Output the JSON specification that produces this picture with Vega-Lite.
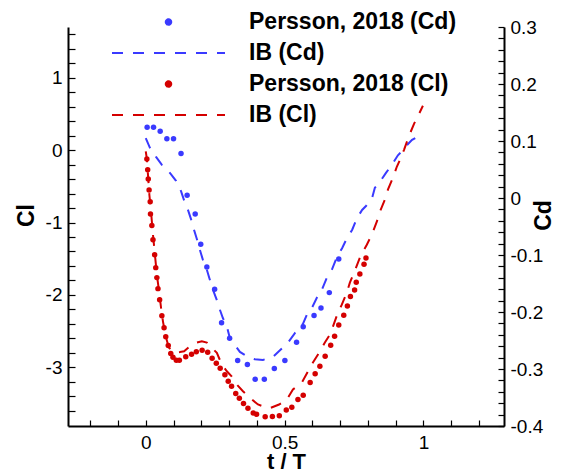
{
"$schema": "https://vega.github.io/schema/vega-lite/v6.json",
"width": 436, "height": 399,
"autosize": {"type": "none"},
"padding": {"left": 68, "top": 27, "right": 62, "bottom": 45},
"config": {
  "view": {"stroke": null},
  "axis": {"grid": false, "domainColor": "black", "domainWidth": 2, "tickColor": "black", "tickWidth": 1.2,
    "labelFont": "Liberation Sans", "labelFontSize": 19, "labelColor": "black",
    "titleFont": "Liberation Sans", "titleFontWeight": "bold", "titleColor": "black",
    "labelOverlap": false, "labelFlush": false}
},
"data": {"values": [
{"s":"IB (Cd)","t":0,"v":0.105},{"s":"IB (Cd)","t":0.015,"v":0.088},{"s":"IB (Cd)","t":0.037,"v":0.072},{"s":"IB (Cd)","t":0.058,"v":0.058},{"s":"IB (Cd)","t":0.087,"v":0.044},{"s":"IB (Cd)","t":0.109,"v":0.030},{"s":"IB (Cd)","t":0.127,"v":0.012},{"s":"IB (Cd)","t":0.138,"v":-0.004},{"s":"IB (Cd)","t":0.152,"v":-0.021},{"s":"IB (Cd)","t":0.163,"v":-0.037},{"s":"IB (Cd)","t":0.174,"v":-0.056},{"s":"IB (Cd)","t":0.184,"v":-0.072},{"s":"IB (Cd)","t":0.195,"v":-0.091},{"s":"IB (Cd)","t":0.206,"v":-0.109},{"s":"IB (Cd)","t":0.220,"v":-0.126},{"s":"IB (Cd)","t":0.228,"v":-0.139},{"s":"IB (Cd)","t":0.242,"v":-0.161},{"s":"IB (Cd)","t":0.256,"v":-0.179},{"s":"IB (Cd)","t":0.267,"v":-0.196},{"s":"IB (Cd)","t":0.278,"v":-0.211},{"s":"IB (Cd)","t":0.292,"v":-0.225},{"s":"IB (Cd)","t":0.303,"v":-0.246},{"s":"IB (Cd)","t":0.321,"v":-0.258},{"s":"IB (Cd)","t":0.339,"v":-0.270},{"s":"IB (Cd)","t":0.368,"v":-0.279},{"s":"IB (Cd)","t":0.393,"v":-0.283},{"s":"IB (Cd)","t":0.422,"v":-0.284},{"s":"IB (Cd)","t":0.458,"v":-0.279},{"s":"IB (Cd)","t":0.490,"v":-0.264},{"s":"IB (Cd)","t":0.512,"v":-0.254},{"s":"IB (Cd)","t":0.537,"v":-0.237},{"s":"IB (Cd)","t":0.566,"v":-0.221},{"s":"IB (Cd)","t":0.580,"v":-0.205},{"s":"IB (Cd)","t":0.598,"v":-0.193},{"s":"IB (Cd)","t":0.616,"v":-0.175},{"s":"IB (Cd)","t":0.634,"v":-0.161},{"s":"IB (Cd)","t":0.652,"v":-0.140},{"s":"IB (Cd)","t":0.670,"v":-0.126},{"s":"IB (Cd)","t":0.688,"v":-0.104},{"s":"IB (Cd)","t":0.707,"v":-0.088},{"s":"IB (Cd)","t":0.725,"v":-0.070},{"s":"IB (Cd)","t":0.743,"v":-0.056},{"s":"IB (Cd)","t":0.761,"v":-0.035},{"s":"IB (Cd)","t":0.779,"v":-0.021},{"s":"IB (Cd)","t":0.793,"v":-0.014},{"s":"IB (Cd)","t":0.815,"v":0.000},{"s":"IB (Cd)","t":0.825,"v":0.018},{"s":"IB (Cd)","t":0.840,"v":0.026},{"s":"IB (Cd)","t":0.865,"v":0.044},{"s":"IB (Cd)","t":0.890,"v":0.061},{"s":"IB (Cd)","t":0.908,"v":0.075},{"s":"IB (Cd)","t":0.926,"v":0.084},{"s":"IB (Cd)","t":0.941,"v":0.093},{"s":"IB (Cd)","t":0.959,"v":0.102},{"s":"IB (Cd)","t":0.977,"v":0.107},
{"s":"Persson, 2018 (Cd)","t":0.005,"v":0.124},{"s":"Persson, 2018 (Cd)","t":0.028,"v":0.124},{"s":"Persson, 2018 (Cd)","t":0.052,"v":0.117},{"s":"Persson, 2018 (Cd)","t":0.076,"v":0.104},{"s":"Persson, 2018 (Cd)","t":0.100,"v":0.104},{"s":"Persson, 2018 (Cd)","t":0.127,"v":0.078},{"s":"Persson, 2018 (Cd)","t":0.149,"v":0.005},{"s":"Persson, 2018 (Cd)","t":0.178,"v":-0.028},{"s":"Persson, 2018 (Cd)","t":0.198,"v":-0.081},{"s":"Persson, 2018 (Cd)","t":0.220,"v":-0.121},{"s":"Persson, 2018 (Cd)","t":0.248,"v":-0.160},{"s":"Persson, 2018 (Cd)","t":0.273,"v":-0.219},{"s":"Persson, 2018 (Cd)","t":0.302,"v":-0.246},{"s":"Persson, 2018 (Cd)","t":0.331,"v":-0.285},{"s":"Persson, 2018 (Cd)","t":0.366,"v":-0.292},{"s":"Persson, 2018 (Cd)","t":0.394,"v":-0.318},{"s":"Persson, 2018 (Cd)","t":0.427,"v":-0.318},{"s":"Persson, 2018 (Cd)","t":0.463,"v":-0.299},{"s":"Persson, 2018 (Cd)","t":0.501,"v":-0.285},{"s":"Persson, 2018 (Cd)","t":0.543,"v":-0.253},{"s":"Persson, 2018 (Cd)","t":0.567,"v":-0.226},{"s":"Persson, 2018 (Cd)","t":0.606,"v":-0.206},{"s":"Persson, 2018 (Cd)","t":0.631,"v":-0.193},{"s":"Persson, 2018 (Cd)","t":0.661,"v":-0.166},{"s":"Persson, 2018 (Cd)","t":0.695,"v":-0.107},
{"s":"IB (Cl)","t":0,"v":-0.017},{"s":"IB (Cl)","t":0.004,"v":-0.12},{"s":"IB (Cl)","t":0.008,"v":-0.34},{"s":"IB (Cl)","t":0.013,"v":-0.617},{"s":"IB (Cl)","t":0.019,"v":-0.851},{"s":"IB (Cl)","t":0.026,"v":-1.168},{"s":"IB (Cl)","t":0.033,"v":-1.444},{"s":"IB (Cl)","t":0.040,"v":-1.720},{"s":"IB (Cl)","t":0.048,"v":-1.954},{"s":"IB (Cl)","t":0.055,"v":-2.175},{"s":"IB (Cl)","t":0.062,"v":-2.368},{"s":"IB (Cl)","t":0.073,"v":-2.589},{"s":"IB (Cl)","t":0.083,"v":-2.727},{"s":"IB (Cl)","t":0.102,"v":-2.796},{"s":"IB (Cl)","t":0.123,"v":-2.789},{"s":"IB (Cl)","t":0.138,"v":-2.778},{"s":"IB (Cl)","t":0.166,"v":-2.685},{"s":"IB (Cl)","t":0.184,"v":-2.658},{"s":"IB (Cl)","t":0.202,"v":-2.640},{"s":"IB (Cl)","t":0.220,"v":-2.658},{"s":"IB (Cl)","t":0.235,"v":-2.717},{"s":"IB (Cl)","t":0.256,"v":-2.800},{"s":"IB (Cl)","t":0.274,"v":-2.961},{"s":"IB (Cl)","t":0.292,"v":-3.054},{"s":"IB (Cl)","t":0.310,"v":-3.127},{"s":"IB (Cl)","t":0.328,"v":-3.237},{"s":"IB (Cl)","t":0.350,"v":-3.330},{"s":"IB (Cl)","t":0.375,"v":-3.421},{"s":"IB (Cl)","t":0.404,"v":-3.513},{"s":"IB (Cl)","t":0.429,"v":-3.548},{"s":"IB (Cl)","t":0.447,"v":-3.564},{"s":"IB (Cl)","t":0.480,"v":-3.513},{"s":"IB (Cl)","t":0.508,"v":-3.444},{"s":"IB (Cl)","t":0.530,"v":-3.306},{"s":"IB (Cl)","t":0.562,"v":-3.210},{"s":"IB (Cl)","t":0.584,"v":-3.058},{"s":"IB (Cl)","t":0.602,"v":-2.934},{"s":"IB (Cl)","t":0.627,"v":-2.782},{"s":"IB (Cl)","t":0.645,"v":-2.658},{"s":"IB (Cl)","t":0.663,"v":-2.547},{"s":"IB (Cl)","t":0.674,"v":-2.437},{"s":"IB (Cl)","t":0.692,"v":-2.244},{"s":"IB (Cl)","t":0.706,"v":-2.134},{"s":"IB (Cl)","t":0.724,"v":-1.968},{"s":"IB (Cl)","t":0.735,"v":-1.830},{"s":"IB (Cl)","t":0.753,"v":-1.665},{"s":"IB (Cl)","t":0.771,"v":-1.486},{"s":"IB (Cl)","t":0.796,"v":-1.306},{"s":"IB (Cl)","t":0.814,"v":-1.168},{"s":"IB (Cl)","t":0.832,"v":-0.989},{"s":"IB (Cl)","t":0.843,"v":-0.851},{"s":"IB (Cl)","t":0.861,"v":-0.685},{"s":"IB (Cl)","t":0.872,"v":-0.547},{"s":"IB (Cl)","t":0.890,"v":-0.382},{"s":"IB (Cl)","t":0.904,"v":-0.230},{"s":"IB (Cl)","t":0.919,"v":-0.106},{"s":"IB (Cl)","t":0.930,"v":0.004},{"s":"IB (Cl)","t":0.948,"v":0.197},{"s":"IB (Cl)","t":0.966,"v":0.363},{"s":"IB (Cl)","t":0.984,"v":0.501},{"s":"IB (Cl)","t":0.998,"v":0.612},
{"s":"Persson, 2018 (Cl)","t":0.004,"v":-0.124},{"s":"Persson, 2018 (Cl)","t":0.007,"v":-0.272},{"s":"Persson, 2018 (Cl)","t":0.009,"v":-0.400},{"s":"Persson, 2018 (Cl)","t":0.012,"v":-0.552},{"s":"Persson, 2018 (Cl)","t":0.016,"v":-0.713},{"s":"Persson, 2018 (Cl)","t":0.017,"v":-0.883},{"s":"Persson, 2018 (Cl)","t":0.022,"v":-1.040},{"s":"Persson, 2018 (Cl)","t":0.026,"v":-1.237},{"s":"Persson, 2018 (Cl)","t":0.032,"v":-1.444},{"s":"Persson, 2018 (Cl)","t":0.036,"v":-1.623},{"s":"Persson, 2018 (Cl)","t":0.040,"v":-1.761},{"s":"Persson, 2018 (Cl)","t":0.044,"v":-1.913},{"s":"Persson, 2018 (Cl)","t":0.050,"v":-2.065},{"s":"Persson, 2018 (Cl)","t":0.058,"v":-2.286},{"s":"Persson, 2018 (Cl)","t":0.066,"v":-2.452},{"s":"Persson, 2018 (Cl)","t":0.072,"v":-2.579},{"s":"Persson, 2018 (Cl)","t":0.081,"v":-2.699},{"s":"Persson, 2018 (Cl)","t":0.090,"v":-2.810},{"s":"Persson, 2018 (Cl)","t":0.098,"v":-2.861},{"s":"Persson, 2018 (Cl)","t":0.110,"v":-2.902},{"s":"Persson, 2018 (Cl)","t":0.121,"v":-2.902},{"s":"Persson, 2018 (Cl)","t":0.144,"v":-2.855},{"s":"Persson, 2018 (Cl)","t":0.165,"v":-2.819},{"s":"Persson, 2018 (Cl)","t":0.182,"v":-2.786},{"s":"Persson, 2018 (Cl)","t":0.203,"v":-2.764},{"s":"Persson, 2018 (Cl)","t":0.223,"v":-2.792},{"s":"Persson, 2018 (Cl)","t":0.239,"v":-2.874},{"s":"Persson, 2018 (Cl)","t":0.254,"v":-2.943},{"s":"Persson, 2018 (Cl)","t":0.268,"v":-3.012},{"s":"Persson, 2018 (Cl)","t":0.285,"v":-3.103},{"s":"Persson, 2018 (Cl)","t":0.297,"v":-3.192},{"s":"Persson, 2018 (Cl)","t":0.309,"v":-3.261},{"s":"Persson, 2018 (Cl)","t":0.324,"v":-3.361},{"s":"Persson, 2018 (Cl)","t":0.337,"v":-3.426},{"s":"Persson, 2018 (Cl)","t":0.352,"v":-3.499},{"s":"Persson, 2018 (Cl)","t":0.368,"v":-3.564},{"s":"Persson, 2018 (Cl)","t":0.387,"v":-3.630},{"s":"Persson, 2018 (Cl)","t":0.399,"v":-3.647},{"s":"Persson, 2018 (Cl)","t":0.430,"v":-3.683},{"s":"Persson, 2018 (Cl)","t":0.456,"v":-3.679},{"s":"Persson, 2018 (Cl)","t":0.481,"v":-3.669},{"s":"Persson, 2018 (Cl)","t":0.506,"v":-3.589},{"s":"Persson, 2018 (Cl)","t":0.526,"v":-3.550},{"s":"Persson, 2018 (Cl)","t":0.548,"v":-3.444},{"s":"Persson, 2018 (Cl)","t":0.567,"v":-3.385},{"s":"Persson, 2018 (Cl)","t":0.592,"v":-3.210},{"s":"Persson, 2018 (Cl)","t":0.610,"v":-3.088},{"s":"Persson, 2018 (Cl)","t":0.627,"v":-2.985},{"s":"Persson, 2018 (Cl)","t":0.646,"v":-2.847},{"s":"Persson, 2018 (Cl)","t":0.666,"v":-2.695},{"s":"Persson, 2018 (Cl)","t":0.680,"v":-2.571},{"s":"Persson, 2018 (Cl)","t":0.695,"v":-2.415},{"s":"Persson, 2018 (Cl)","t":0.713,"v":-2.280},{"s":"Persson, 2018 (Cl)","t":0.726,"v":-2.152},{"s":"Persson, 2018 (Cl)","t":0.737,"v":-2.021},{"s":"Persson, 2018 (Cl)","t":0.752,"v":-1.931},{"s":"Persson, 2018 (Cl)","t":0.758,"v":-1.826},{"s":"Persson, 2018 (Cl)","t":0.771,"v":-1.712},{"s":"Persson, 2018 (Cl)","t":0.786,"v":-1.575},{"s":"Persson, 2018 (Cl)","t":0.793,"v":-1.490}
]},
"encoding": {
  "x": {"field": "t", "type": "quantitative", "scale": {"domain": [-0.28, 1.29], "nice": false, "zero": false},
    "axis": {"orient": "bottom", "title": "t / T", "titleFontSize": 22, "titleY": 42, "titleBaseline": "alphabetic",
      "values": [-0.2,-0.1,0,0.1,0.2,0.3,0.4,0.5,0.6,0.7,0.8,0.9,1,1.1,1.2],
      "labelExpr": "indexof([0,0.5,1], datum.value) >= 0 ? format(datum.value, '~g') : ''",
      "tickSize": -6,
      "labelPadding": 13}},
  "color": {"field": "s", "type": "nominal",
    "scale": {"domain": ["Persson, 2018 (Cd)", "IB (Cd)", "Persson, 2018 (Cl)", "IB (Cl)"], "range": ["#3a3aff", "#3a3aff", "#d40000", "#d40000"]},
    "legend": {"orient": "none", "legendX": 43, "legendY": -16, "title": null, "padding": 0,
      "symbolStrokeWidth": 2, "clipHeight": 22,
      "labelFont": "Liberation Sans", "labelFontWeight": "bold", "labelFontSize": 23, "labelColor": "black",
      "labelOffset": 23, "labelLimit": 0, "rowPadding": 8}}
},
"layer": [
  {"transform": [{"filter": "indexof(datum.s, 'Cd') >= 0"}],
   "encoding": {"y": {"field": "v", "type": "quantitative", "scale": {"domain": [-0.4, 0.3], "nice": false, "zero": false},
     "axis": {"orient": "right", "title": "Cd", "titleFontSize": 23, "titleAngle": -90, "titleX": 46, "titleY": 188,
       "titleBaseline": "alphabetic", "titleAlign": "center",
       "values": [-0.4,-0.38,-0.36,-0.34,-0.32,-0.3,-0.28,-0.26,-0.24,-0.22,-0.2,-0.18,-0.16,-0.14,-0.12,-0.1,-0.08,-0.06,-0.04,-0.02,0,0.02,0.04,0.06,0.08,0.1,0.12,0.14,0.16,0.18,0.2,0.22,0.24,0.26,0.28,0.3],
       "labelExpr": "indexof([-0.4,-0.3,-0.2,-0.1,0,0.1,0.2,0.3], datum.value) >= 0 ? (datum.value < 0 ? '-' + format(-datum.value, '~g') : format(datum.value, '~g')) : ''",
       "tickSize": -6,
       "labelPadding": 12}}},
   "layer": [
     {"transform": [{"filter": "indexof(datum.s, 'IB') == 0"}], "mark": {"type": "line", "strokeWidth": 2},
      "encoding": {"strokeDash": {"field": "s", "type": "nominal", "scale": {"domain": ["Persson, 2018 (Cd)", "IB (Cd)", "Persson, 2018 (Cl)", "IB (Cl)"], "range": [[1, 0], [11, 10], [1, 0], [11, 10]]}}}},
     {"transform": [{"filter": "indexof(datum.s, 'IB') < 0"}], "mark": {"type": "point", "filled": true, "opacity": 1},
      "encoding": {
        "shape": {"field": "s", "type": "nominal", "scale": {"domain": ["Persson, 2018 (Cd)", "IB (Cd)", "Persson, 2018 (Cl)", "IB (Cl)"], "range": ["circle", "stroke", "circle", "stroke"]}},
        "size": {"field": "s", "type": "nominal", "scale": {"type": "ordinal", "domain": ["Persson, 2018 (Cd)", "IB (Cd)", "Persson, 2018 (Cl)", "IB (Cl)"], "range": [30, 12769, 30, 12769]}}}}
   ]},
  {"transform": [{"filter": "indexof(datum.s, 'Cl') >= 0"}],
   "encoding": {"y": {"field": "v", "type": "quantitative", "scale": {"domain": [-3.81, 1.7], "nice": false, "zero": false},
     "axis": {"orient": "left", "title": "Cl", "titleFontSize": 23, "titleAngle": -90, "titleX": -35, "titleY": 188,
       "titleBaseline": "alphabetic", "titleAlign": "center",
       "values": [-3.6,-3.4,-3.2,-3,-2.8,-2.6,-2.4,-2.2,-2,-1.8,-1.6,-1.4,-1.2,-1,-0.8,-0.6,-0.4,-0.2,0,0.2,0.4,0.6,0.8,1,1.2,1.4,1.6],
       "labelExpr": "indexof([-3,-2,-1,0,1], datum.value) >= 0 ? (datum.value < 0 ? '-' + format(-datum.value, '~g') : format(datum.value, '~g')) : ''",
       "tickSize": -7,
       "labelPadding": 13}}},
   "layer": [
     {"transform": [{"filter": "indexof(datum.s, 'IB') == 0"}], "mark": {"type": "line", "strokeWidth": 2},
      "encoding": {"strokeDash": {"field": "s", "type": "nominal", "scale": {"domain": ["Persson, 2018 (Cd)", "IB (Cd)", "Persson, 2018 (Cl)", "IB (Cl)"], "range": [[1, 0], [11, 10], [1, 0], [11, 10]]}}}},
     {"transform": [{"filter": "indexof(datum.s, 'IB') < 0"}], "mark": {"type": "point", "filled": true, "opacity": 1},
      "encoding": {
        "shape": {"field": "s", "type": "nominal", "scale": {"domain": ["Persson, 2018 (Cd)", "IB (Cd)", "Persson, 2018 (Cl)", "IB (Cl)"], "range": ["circle", "stroke", "circle", "stroke"]}},
        "size": {"field": "s", "type": "nominal", "scale": {"type": "ordinal", "domain": ["Persson, 2018 (Cd)", "IB (Cd)", "Persson, 2018 (Cl)", "IB (Cl)"], "range": [30, 12769, 30, 12769]}}}}
   ]}
],
"resolve": {"scale": {"y": "independent"}}
}
